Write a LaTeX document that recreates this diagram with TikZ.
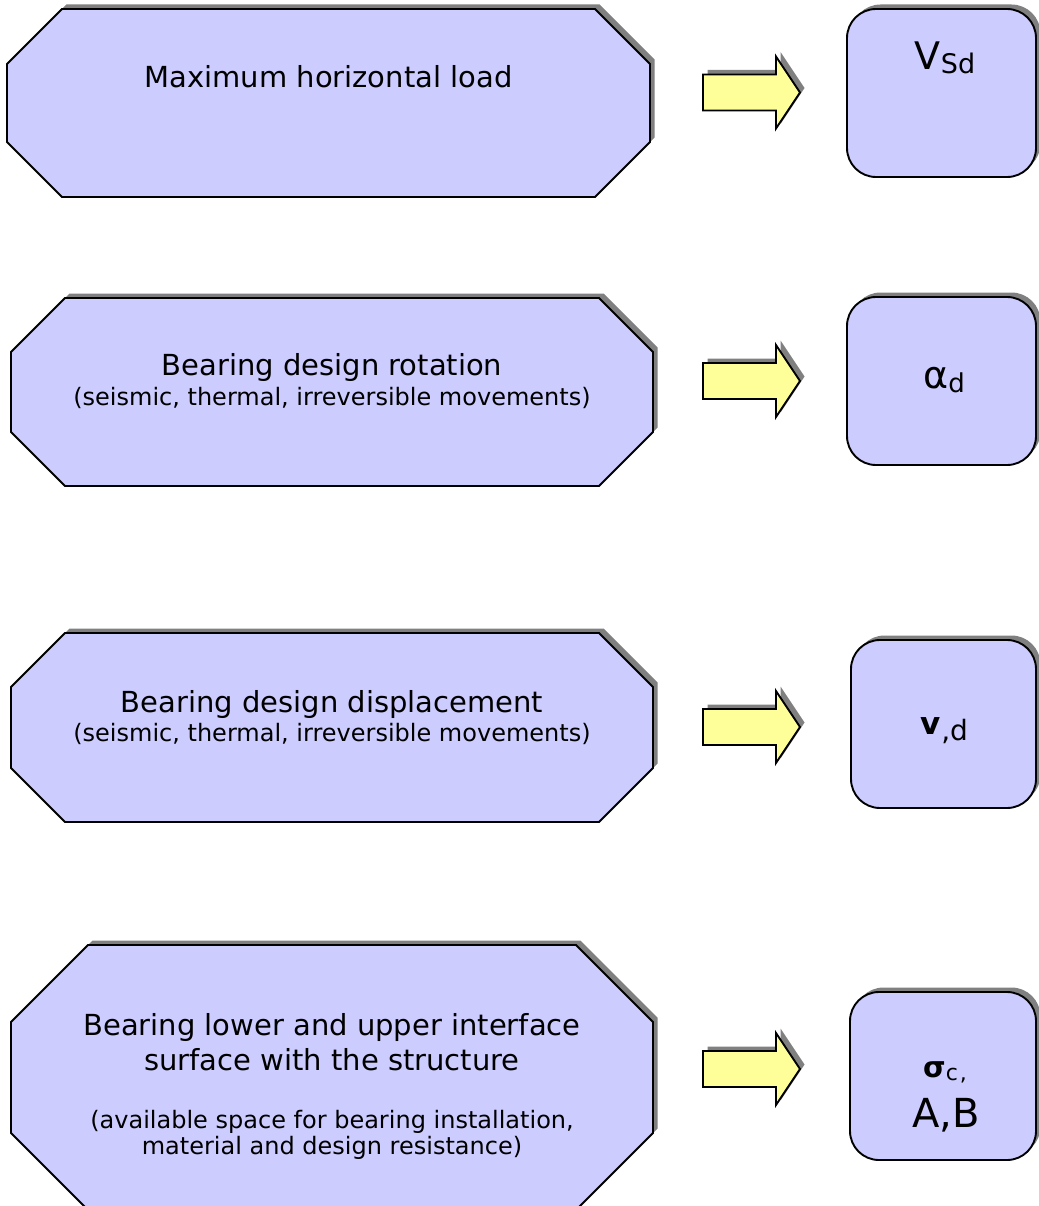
\documentclass[tikz,border=0pt]{standalone}
\usepackage{fontspec}
\setmainfont{DejaVu Sans}
\usetikzlibrary{shadows}
\definecolor{lav}{HTML}{CCCCFF}
\definecolor{yel}{HTML}{FFFF99}
\definecolor{shd}{HTML}{808080}
\tikzset{
  octstyle/.style={fill=lav,draw=black,line width=1.9pt,line join=miter},
  shadowfill/.style={fill=shd,shift={(4.5,-4.5)}},
  rbox/.style={rectangle,rounded corners=29pt,fill=lav,draw=black,line width=1.9pt,inner sep=0pt,
    drop shadow={shadow xshift=4.5pt,shadow yshift=4.5pt,fill=shd,opacity=1}},
  big/.style={font=\fontsize{29}{34}\selectfont},
  small/.style={font=\fontsize{24}{28}\selectfont},
  lbl/.style={anchor=base,inner sep=0pt},
  blockarrow/.pic={
    \fill[shadowfill] (0,-18) -- (73,-18) -- (73,-36) -- (97,0) -- (73,36) -- (73,18) -- (0,18) -- cycle;
    \filldraw[fill=yel,draw=black,line width=1.9pt] (0,-18) -- (73,-18) -- (73,-36) -- (97,0) -- (73,36) -- (73,18) -- (0,18) -- cycle;
  }
}
\newcommand\octagon[5]{%
  \fill[shadowfill] (#1+#5,#2) -- (#3-#5,#2) -- (#3,#2+#5) -- (#3,#4-#5) -- (#3-#5,#4) -- (#1+#5,#4) -- (#1,#4-#5) -- (#1,#2+#5) -- cycle;
  \filldraw[octstyle] (#1+#5,#2) -- (#3-#5,#2) -- (#3,#2+#5) -- (#3,#4-#5) -- (#3-#5,#4) -- (#1+#5,#4) -- (#1,#4-#5) -- (#1,#2+#5) -- cycle;}
\begin{document}
\begin{tikzpicture}[x=1pt,y=-1pt]
\useasboundingbox (0,0) rectangle (1038,1206);
% left octagons
\octagon{7}{9}{650}{197}{55}
\octagon{11}{298}{653}{486}{54}
\octagon{11}{633}{653}{822}{54}
\octagon{11}{945}{653}{1210}{77}
% texts
\node[lbl,big] (t1) at (328.5,88) {Maximum horizontal load};
\node[lbl,big] (t2a) at (332,375) {Bearing design rotation};
\node[lbl,small] (t2b) at (332,405) {(seismic, thermal, irreversible movements)};
\node[lbl,big] (t3a) at (332,712) {Bearing design displacement};
\node[lbl,small] (t3b) at (332,741) {(seismic, thermal, irreversible movements)};
\node[lbl,big] (t4a) at (332,1035) {Bearing lower and upper interface};
\node[lbl,big] (t4b) at (332,1070) {surface with the structure};
\node[lbl,small] (t4c) at (332,1128) {(available space for bearing installation,};
\node[lbl,small] (t4d) at (332,1154) {material and design resistance)};
% block arrows
\pic at (703,92.5) {blockarrow};
\pic at (703,381) {blockarrow};
\pic at (703,727) {blockarrow};
\pic at (703,1069) {blockarrow};
% right boxes
\node[rbox,minimum width=189pt,minimum height=168pt] (r1) at (941.5,93) {};
\node[rbox,minimum width=189pt,minimum height=168pt] (r2) at (941.5,381) {};
\node[rbox,minimum width=185pt,minimum height=168pt] (r3) at (943.5,724) {};
\node[rbox,minimum width=186pt,minimum height=168pt] (r4) at (943,1076) {};
\node[lbl] (v1) at (945,70) {\fontsize{38}{40}\selectfont V\fontsize{27}{29}\selectfont\raisebox{-4pt}{Sd}};
\node[lbl] (v2) at (944,388) {\fontsize{38}{40}\selectfont α\fontsize{26}{28}\selectfont\raisebox{-4pt}{d}};
\node[lbl] (v3) at (944,734) {\fontsize{31}{33}\selectfont\bfseries v\mdseries\kern1pt\fontsize{28}{30}\selectfont\raisebox{-6pt}{,d}};
\node[lbl] (v4a) at (945,1077) {\fontsize{29}{31}\selectfont\bfseries σ\mdseries\fontsize{22}{24}\selectfont\raisebox{-3pt}{c\kern2pt,}};
\node[lbl] (v4b) at (946,1127) {\fontsize{40}{42}\selectfont A,B};
\end{tikzpicture}
\end{document}
